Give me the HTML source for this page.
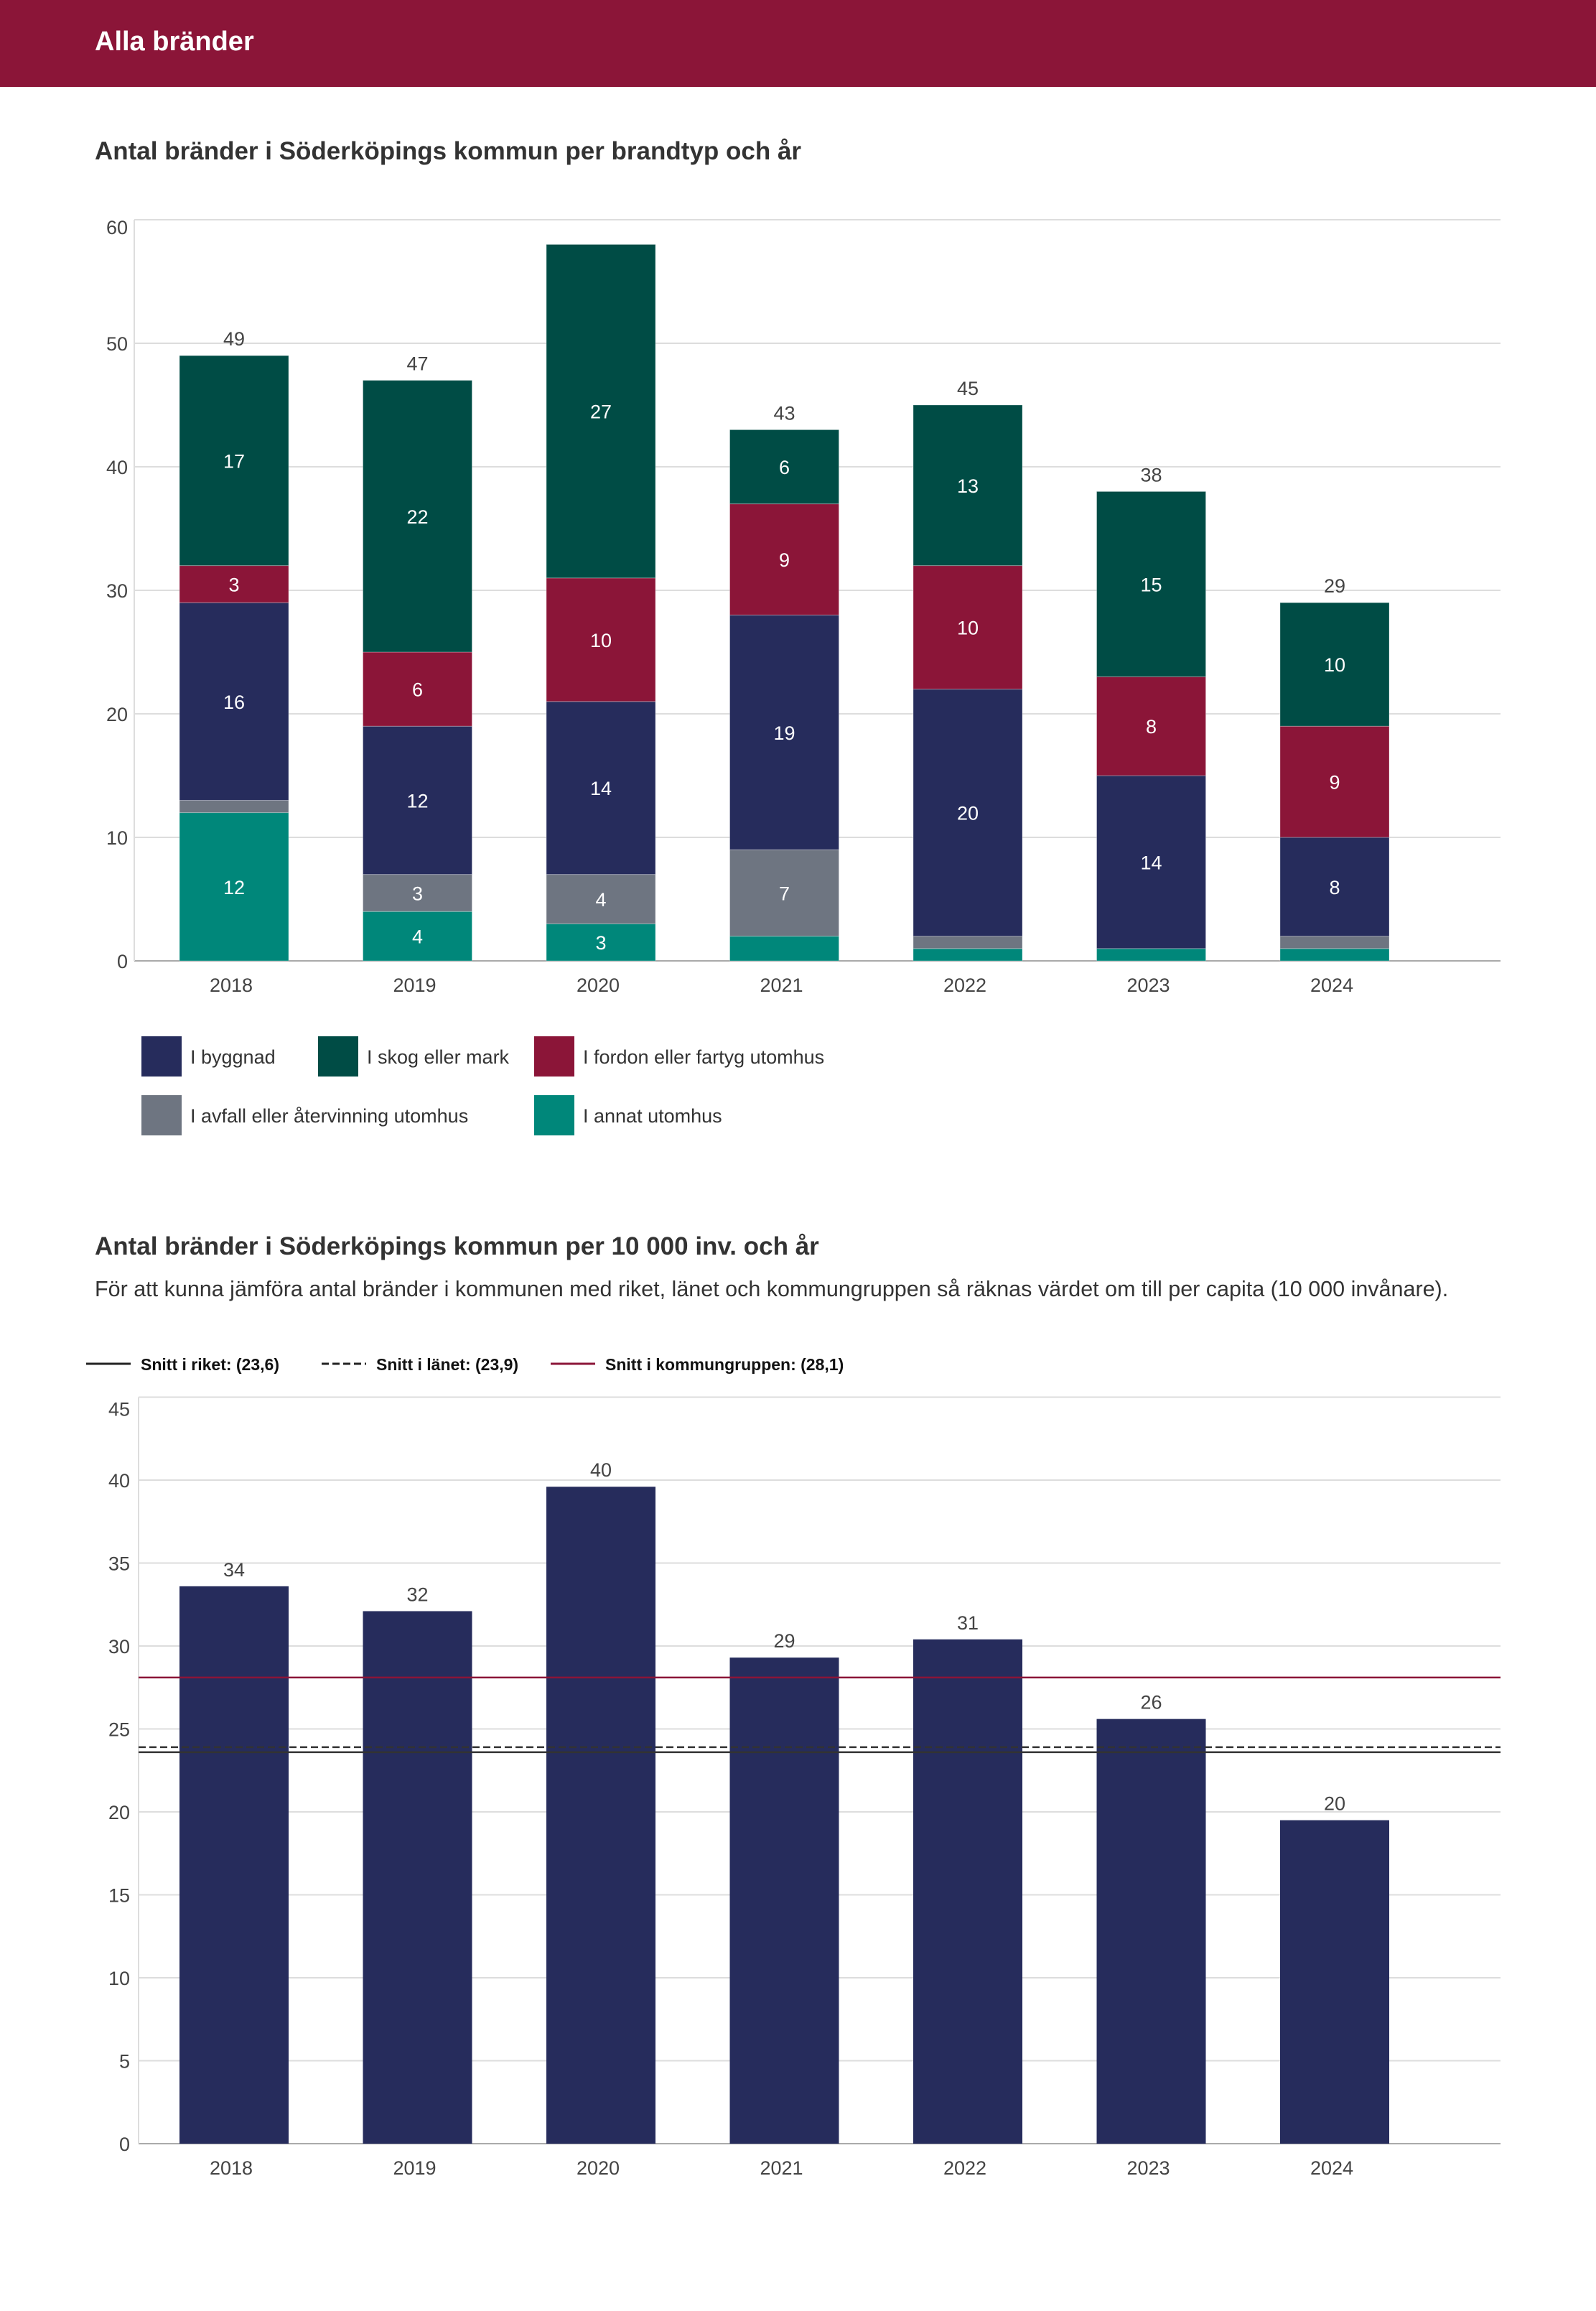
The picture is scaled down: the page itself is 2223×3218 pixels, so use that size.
<!DOCTYPE html>
<html><head><meta charset="utf-8">
<style>
html,body{margin:0;padding:0;background:#fff;}
body{width:2223px;height:3213px;overflow:hidden;position:relative;font-family:"Liberation Sans",sans-serif;}
svg text{font-family:"Liberation Sans",sans-serif;}
</style></head>
<body>
<svg id="page" width="2223" height="3213" viewBox="0 0 2223 3213" xmlns="http://www.w3.org/2000/svg">
<rect x="0" y="0" width="2223" height="121" fill="#8b1538"/>
<text x="132" y="70" font-size="38" fill="#fff" font-weight="bold">Alla bränder</text>
<text x="132" y="222" font-size="35" fill="#333" font-weight="bold">Antal bränder i Söderköpings kommun per brandtyp och år</text>
<g id="c1"></g>
<g id="leg1"></g>
<text x="132" y="1747" font-size="35" fill="#333" font-weight="bold">Antal bränder i Söderköpings kommun per 10 000 inv. och år</text>
<text x="132" y="1805" font-size="30.5" fill="#333">För att kunna jämföra antal bränder i kommunen med riket, länet och kommungruppen så räknas värdet om till per capita (10 000 invånare).</text>
<g id="leg2"></g>
<g id="c2"></g>
</svg>
<script>
const years = ["2018","2019","2020","2021","2022","2023","2024"];
const byggnad = [16,12,14,19,20,14,8];
const skog = [17,22,27,6,13,15,10];
const fordon = [3,6,10,9,10,8,9];
const avfall = [1,3,4,7,1,0,1];
const annat = [12,4,3,2,1,1,1];
const ticks1 = [0,10,20,30,40,50,60];
const perCapita = [33.6,32.1,39.6,29.3,30.4,25.6,19.5];
const perCapitaLabels = ["34","32","40","29","31","26","20"];
const ticks2 = [0,5,10,15,20,25,30,35,40,45];
const refNames = ["Snitt i riket: (23,6)","Snitt i länet: (23,9)","Snitt i kommungruppen: (28,1)"];
const refValues = [23.6,23.9,28.1];

const NS="http://www.w3.org/2000/svg";
function mk(parent,tag,attrs,text){const e=document.createElementNS(NS,tag);for(const k in attrs)e.setAttribute(k,attrs[k]);if(text!==undefined)e.textContent=text;parent.appendChild(e);return e;}
const bandX = i => 326 + i*255.5;
const barW = 152;
const plotL=187, plotR=2090;

// Chart 1
const c1=document.getElementById('c1');
const y1 = v => 1338 - v*17.2;
ticks1.forEach(t=>{
  const g=mk(c1,'line',{x1:plotL,x2:plotR,y1:y1(t),y2:y1(t),stroke:t===0?'#aaa':'#ddd','stroke-width':2});
  
  
  const tx=mk(c1,'text',{x:178,y:(t===60?y1(t)+20:y1(t)+10),'text-anchor':'end','font-size':27,fill:'#444'},String(t));
  
  
});
const ax1=mk(c1,'line',{x1:plotL,x2:plotL,y1:y1(60),y2:y1(0),stroke:'#ddd','stroke-width':2});


const series=[["annat",annat,"#00877a"],["avfall",avfall,"#6e7581"],["byggnad",byggnad,"#262c5c"],["fordon",fordon,"#8b1538"],["skog",skog,"#004c45"]];
years.forEach((yr,i)=>{
  let base=0;
  const cx=bandX(i);
  series.forEach(([nm,arr,col])=>{
    const v=arr[i];
    if(v>0){
      const r=mk(c1,'rect',{x:cx-barW/2,y:y1(base+v),width:barW,height:y1(base)-y1(base+v),fill:col,stroke:'#fff','stroke-opacity':0.3,'stroke-width':1});
      
      
      if(v>=3){
        const t=mk(c1,'text',{x:cx,y:(y1(base)+y1(base+v))/2+10,'text-anchor':'middle','font-size':27,fill:'#fff'},String(v));
        
        
      }
    }
    base+=v;
  });
  if(base<=55){
    const t=mk(c1,'text',{x:cx,y:y1(base)-14,'text-anchor':'middle','font-size':27,fill:'#444'},String(base));
    
    
  }
  const yl=mk(c1,'text',{x:cx-4,y:1381,'text-anchor':'middle','font-size':27,fill:'#444'},yr);
  
  
});
// Legend 1
const leg1=document.getElementById('leg1');
const legItems=[["I byggnad","#262c5c",197,1443],["I skog eller mark","#004c45",443,1443],["I fordon eller fartyg utomhus","#8b1538",744,1443],["I avfall eller återvinning utomhus","#6e7581",197,1525],["I annat utomhus","#00877a",744,1525]];
legItems.forEach(([lab,col,x,y])=>{
  const r=mk(leg1,'rect',{x:x,y:y,width:56,height:56,fill:col});
  
  
  const t=mk(leg1,'text',{x:x+68,y:y+38,'font-size':27,fill:'#333'},lab);
  
  
});

// Legend 2
const leg2=document.getElementById('leg2');
const l2=[[120,'#222',null],[448,'#222','10 5'],[767,'#8b1538',null]];
refNames.forEach((nm,i)=>{
  const [x,col,dash]=l2[i];
  const a={x1:x,x2:x+62,y1:1899,y2:1899,stroke:col,'stroke-width':3};
  if(dash)a['stroke-dasharray']=dash;
  const ln=mk(leg2,'line',a);
  
  
  const t=mk(leg2,'text',{x:x+76,y:1908,'font-size':23,fill:'#111','font-weight':'bold'},nm);
  
  
});

// Chart 2
const c2=document.getElementById('c2');
const y2 = v => 2985 - v*23.1;
const pL2=193;
ticks2.forEach(t=>{
  const g=mk(c2,'line',{x1:pL2,x2:plotR,y1:y2(t),y2:y2(t),stroke:t===0?'#aaa':'#ddd','stroke-width':2});
  
  
  const tx=mk(c2,'text',{x:181,y:(t===45?y2(t)+26:y2(t)+10),'text-anchor':'end','font-size':27,fill:'#444'},String(t));
  
  
});
const ax2=mk(c2,'line',{x1:pL2,x2:pL2,y1:y2(45),y2:y2(0),stroke:'#ddd','stroke-width':2});


years.forEach((yr,i)=>{
  const cx=bandX(i);
  const v=perCapita[i];
  const r=mk(c2,'rect',{x:cx-barW/2,y:y2(v),width:barW,height:y2(0)-y2(v),fill:'#262c5c'});
  
  
  const t=mk(c2,'text',{x:cx,y:y2(v)-14,'text-anchor':'middle','font-size':27,fill:'#444'},perCapitaLabels[i]);
  
  
  const yl=mk(c2,'text',{x:cx-4,y:3028,'text-anchor':'middle','font-size':27,fill:'#444'},yr);
  
  
});
const refStyle=[['#333',null],['#333','10 5'],['#8b1538',null]];
refValues.forEach((v,i)=>{
  const a={x1:pL2,x2:plotR,y1:y2(v),y2:y2(v),stroke:refStyle[i][0],'stroke-width':2.5};
  if(refStyle[i][1])a['stroke-dasharray']=refStyle[i][1];
  const ln=mk(c2,'line',a);
  
  
});
</script>
</body></html>
